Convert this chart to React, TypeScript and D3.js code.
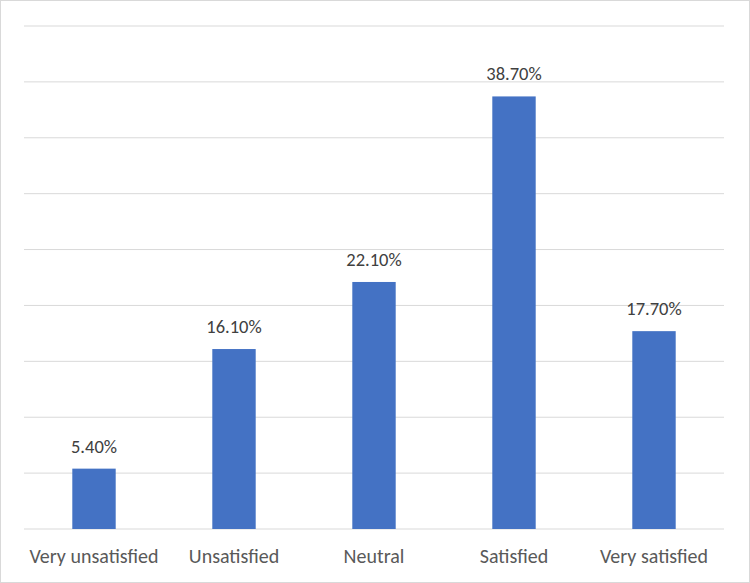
import React from "react";
import * as d3 from "d3";

const categories = ["Very unsatisfied", "Unsatisfied", "Neutral", "Satisfied", "Very satisfied"];
const values = [5.4, 16.1, 22.1, 38.7, 17.7];
const yTicks = [0, 5, 10, 15, 20, 25, 30, 35, 40, 45];

export default function App() {
  const totalWidth = 750;
  const totalHeight = 583;
  const margin = { left: 24, right: 26, top: 26, bottom: 54 };
  const width = totalWidth - margin.left - margin.right;
  const height = totalHeight - margin.top - margin.bottom;

  const xScale = d3.scaleBand().domain(categories).range([0, width]).paddingInner(0.69).paddingOuter(0.345);
  const yScale = d3.scaleLinear().domain([0, 45]).range([height, 0]);

  const font = "Carlito, Calibri, Lato, sans-serif";

  return (
    <svg
      width={totalWidth}
      height={totalHeight}
      style={{ position: "absolute", left: 0, top: 0, background: "white" }}
    >
      <rect x={0.5} y={0.5} width={totalWidth - 1} height={totalHeight - 1} fill="white" stroke="#d9d9d9" />
      <g transform={`translate(${margin.left}, ${margin.top})`}>
        {yTicks.map((t) => (
          <line key={t} x1={0} x2={width} y1={yScale(t)} y2={yScale(t)} stroke="#d9d9d9" strokeWidth={1} />
        ))}
        {categories.map((c, i) => (
          <g key={c}>
            <rect
              x={xScale(c)}
              y={yScale(values[i])}
              width={xScale.bandwidth()}
              height={height - yScale(values[i])}
              fill="#4472C4"
            />
            <text
              x={(xScale(c) ?? 0) + xScale.bandwidth() / 2}
              y={yScale(values[i]) - 16}
              textAnchor="middle"
              fontFamily={font}
              fontSize={18.5}
              fill="#404040"
            >
              {values[i].toFixed(2) + "%"}
            </text>
            <text
              x={(xScale(c) ?? 0) + xScale.bandwidth() / 2}
              y={height + 34}
              textAnchor="middle"
              fontFamily={font}
              fontSize={20}
              fill="#595959"
            >
              {c}
            </text>
          </g>
        ))}
      </g>
    </svg>
  );
}
